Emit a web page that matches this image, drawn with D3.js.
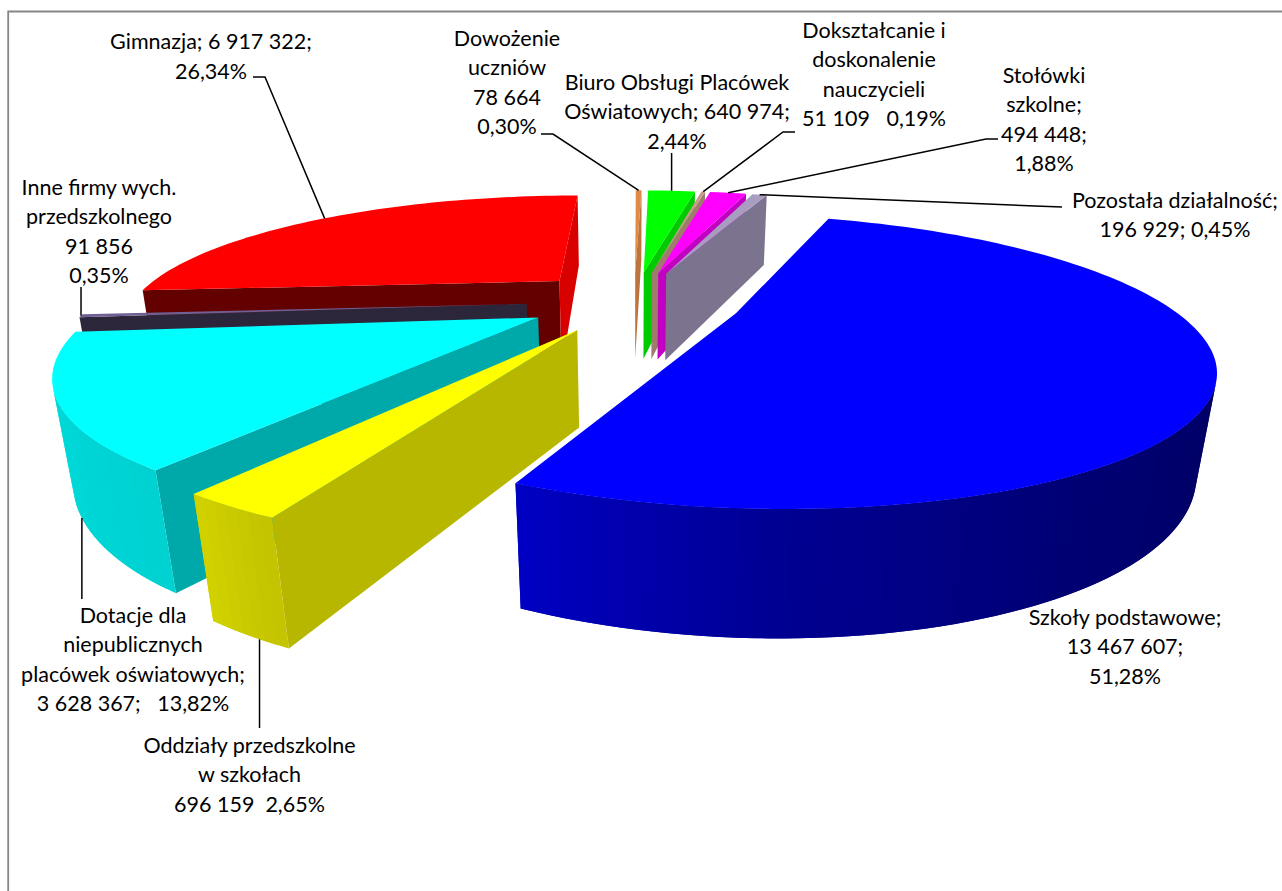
<!DOCTYPE html>
<html><head><meta charset="utf-8">
<script src="https://cdn.jsdelivr.net/npm/d3@7"></script>
<style>html,body{margin:0;padding:0;background:#fff;overflow:hidden}svg{display:block}text{font-family:Lato,"Open Sans",sans-serif;font-size:21.5px;fill:#000;white-space:pre}</style>
</head><body>
<script>
const categories = ["Szkoły podstawowe","Oddziały przedszkolne w szkołach","Dotacje dla niepublicznych placówek oświatowych","Inne firmy wych. przedszkolnego","Gimnazja","Dowożenie uczniów","Biuro Obsługi Placówek Oświatowych","Dokształcanie i doskonalenie nauczycieli","Stołówki szkolne","Pozostała działalność"];
const values = [13467607,696159,3628367,91856,6917322,78664,640974,51109,494448,196929];
const colors = ["#0000ff","#ffff00","#00ffff","#6f5f92","#ff0000","#e08a48","#00ff00","#c89b87","#ff00ff","#a89cc0"];
const labelLines = [
 ["Szkoły podstawowe;","13 467 607;","51,28%"],
 ["Oddziały przedszkolne","w szkołach","696 159  2,65%"],
 ["Dotacje dla","niepublicznych","placówek oświatowych;","3 628 367;   13,82%"],
 ["Inne firmy wych.","przedszkolnego","91 856","0,35%"],
 ["Gimnazja; 6 917 322;","26,34%"],
 ["Dowożenie","uczniów","78 664","0,30%"],
 ["Biuro Obsługi Placówek","Oświatowych; 640 974;","2,44%"],
 ["Dokształcanie i","doskonalenie","nauczycieli","51 109   0,19%"],
 ["Stołówki","szkolne;","494 448;","1,88%"],
 ["Pozostała działalność;","196 929; 0,45%"]
];
// label centre x and first-line centre y
const labelX = [1125,249.5,133,99,211,507,677,874,1044,1175];
const labelY = [617,745,615,187,41.5,38,82,30,75,200];
const lineStep = 29.5;
// leader start/elbow points; null x = same x as the anchor
const leaderPts = [null,[[null,728]],[[null,599]],[[null,287]],[[253,77],[265,77]],[[541,134],[553,134]],[[null,153]],[[795,132],[783,132]],[[998,139],[986,139]],[[1062,207],[1035,206]]];
const leaderBottom = [false,true,true,false,false,false,false,false,false,false];
const leaderFrac = [.5,.36,.46,.5,.5,.5,.5,.5,.5,.5];
const drawOrder = [5,6,7,8,9,4,3,2,1,0];

// camera calibration: plane (u,v) with pie radius 1, z = thickness
const cam = {cx:634, y0:301, horizon:-88, ax:428, f:0.318, nadir:3350, g:0.0311, explode:0.25};
const firstSliceAngle = 20.2;
const D = cam.y0 - cam.horizon;
function project(u,v,z){
  const w0 = 1 + cam.f*v, g = cam.g*z;
  const xt = cam.cx + cam.ax*u/w0, yt = cam.horizon + D/w0;
  const k = g/(w0+g);
  return [xt + (cam.cx-xt)*k, yt + (cam.nadir-yt)*k];
}
const rad = Math.PI/180;
const pie = d3.pie().sort(null).startAngle(firstSliceAngle*rad).endAngle(firstSliceAngle*rad+2*Math.PI);
const arcs = pie(values);
const toMath = a => Math.PI/2 - a;
const shadeRim = d3.scaleLinear().domain([-180,-124,-114,-90,-60,-20,0,60]).range([.88,.82,.76,.57,.45,.38,.36,.36]).clamp(true);
const shadeEdge = d3.scaleLinear().domain([0,85,180]).range([.85,.39,.39]).clamp(true);
const darken = (c,s)=>{const r=d3.rgb(c);return d3.rgb(r.r*s,r.g*s,r.b*s).formatHex();};
const norm = d => {let x=((d+180)%360+360)%360-180; return x===-180?180:x;};
const area = p => d3.polygonArea(p);
const lineGen = d3.line().curve(d3.curveLinearClosed);

const svg = d3.select("body").append("svg").attr("width",1282).attr("height",891);
svg.append("rect").attr("width",1282).attr("height",891).attr("fill","#fff");
svg.append("path").attr("d","M1282,11.5H8.2V891").attr("fill","none").attr("stroke","#868686").attr("stroke-width",1.8);

const step = 1.5*rad;
function geom(i){
  const a = arcs[i], bis = toMath((a.startAngle+a.endAngle)/2);
  const ox = cam.explode*Math.cos(bis), oy = cam.explode*Math.sin(bis);
  const rim = t => { const m = toMath(t); return [ox+Math.cos(m), oy+Math.sin(m)]; };
  return {a,bis,ox,oy,rim};
}
function face(g,pts,fill){
  g.append("path").attr("d",lineGen(pts)).attr("fill",fill);
}
drawOrder.forEach(i=>{
  const {a,ox,oy,rim} = geom(i), g = svg.append("g").attr("data-name",categories[i]), col = colors[i];
  const n = Math.max(1,Math.ceil((a.endAngle-a.startAngle)/step));
  const ts = d3.range(n+1).map(k=>a.startAngle+(a.endAngle-a.startAngle)*k/n);
  const P = (uv,z)=>project(uv[0],uv[1],z), O=[ox,oy];
  // radial walls
  const sW = [P(O,0),P(rim(a.startAngle),0),P(rim(a.startAngle),1),P(O,1)];
  const eW = [P(rim(a.endAngle),0),P(O,0),P(O,1),P(rim(a.endAngle),1)];
  const sN = norm(toMath(a.startAngle)/rad+90), eN = norm(toMath(a.endAngle)/rad-90);
  [[sW,sN],[eW,eN]].forEach(([pts,nrm])=>{ if(area(pts)>0) face(g,pts,darken(col,shadeEdge(Math.abs(nrm)))); });
  // outer wall: each strip runs under the next one so no seams show
  for(let k=0;k<n;k++){
    const tn = ts[Math.min(k+2,n)];
    const q=[P(rim(ts[k]),0),P(rim(tn),0),P(rim(tn),1),P(rim(ts[k]),1)];
    if(area(q)>0){
      const mid=norm(toMath((ts[k]+ts[k+1])/2)/rad);
      face(g,q,darken(col,shadeRim(mid)));
    }
  }
  // top
  face(g,[P(O,0)].concat(ts.map(t=>P(rim(t),0))),col);
});
// leaders
arcs.forEach((a,i)=>{
  if(!leaderPts[i]) return;
  const {rim} = geom(i), m=a.startAngle+(a.endAngle-a.startAngle)*leaderFrac[i], uv=rim(m);
  const end = project(uv[0],uv[1],leaderBottom[i]?1:0);
  const pts = leaderPts[i].map(p=>[p[0]===null?end[0]:p[0],p[1]]).concat([end]);
  svg.append("path").attr("d",d3.line()(pts)).attr("fill","none").attr("stroke","#000").attr("stroke-width",1.5);
});
// labels
labelLines.forEach((ls,i)=>{
  const t = svg.append("text").attr("text-anchor","middle");
  ls.forEach((s,j)=>t.append("tspan").attr("x",labelX[i]).attr("y",labelY[i]+j*lineStep).attr("dy","0.35em").text(s));
});
</script>
</body></html>
